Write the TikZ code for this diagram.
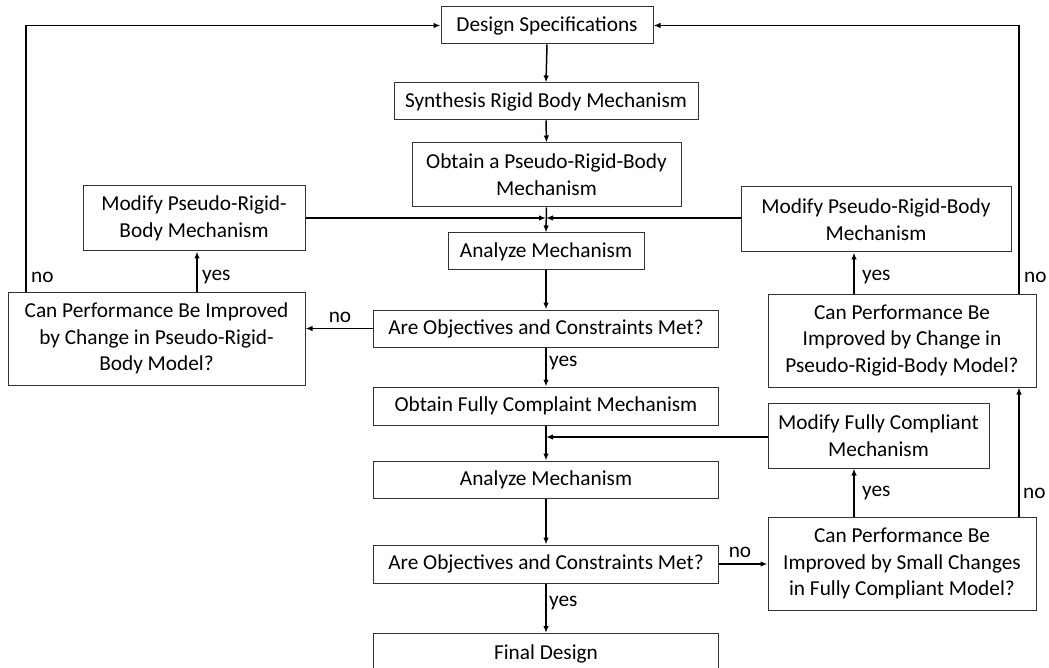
\documentclass[tikz,border=0pt]{standalone}
\usepackage{fontspec}
\setmainfont{Carlito}
\usetikzlibrary{arrows.meta}
\begin{document}
\begin{tikzpicture}[x=1pt,y=-1pt,
  box/.style={draw=black!80,line width=1pt,align=center,inner sep=0pt,
    font=\fontsize{21.3}{26.7}\selectfont},
  conn/.style={line width=1.5pt},
  arr/.style={conn,-{Latex[length=7pt,width=5.5pt]}},
  lbl/.style={inner sep=0pt,anchor=west,font=\fontsize{21.3}{26.7}\selectfont}]
\useasboundingbox (0,0) rectangle (1049,668);
% boxes
\node[box,minimum width=212,minimum height=37] (DS) at (547,25.5) {Design Specifications};
\node[box,minimum width=304,minimum height=37] (SR) at (546,101.5) {Synthesis Rigid Body Mechanism};
\node[box,minimum width=269,minimum height=64] (OP) at (546.5,175) {Obtain a Pseudo-Rigid-Body\\Mechanism};
\node[box,minimum width=222,minimum height=65] (ML) at (194,218.5) {Modify Pseudo-Rigid-\\Body Mechanism};
\node[box,minimum width=270,minimum height=65] (MR) at (876,219.5) {Modify Pseudo-Rigid-Body\\Mechanism};
\node[box,minimum width=196,minimum height=37] (AM1) at (546,251.5) {Analyze Mechanism};
\node[box,minimum width=297,minimum height=93] (CL) at (156.5,338.5) {Can Performance Be Improved\\by Change in Pseudo-Rigid-\\Body Model?};
\node[box,minimum width=345,minimum height=37] (AO1) at (546,328.5) {Are Objectives and Constraints Met?};
\node[box,minimum width=268,minimum height=93] (CR) at (902,340.5) {Can Performance Be\\Improved by Change in\\Pseudo-Rigid-Body Model?};
\node[box,minimum width=345,minimum height=38] (OF) at (546,406) {Obtain Fully Complaint Mechanism};
\node[box,minimum width=221,minimum height=65] (MF) at (878.5,435.5) {Modify Fully Compliant\\Mechanism};
\node[box,minimum width=345,minimum height=37] (AM2) at (546,479.5) {Analyze Mechanism};
\node[box,minimum width=345,minimum height=38] (AO2) at (546,564) {Are Objectives and Constraints Met?};
\node[box,minimum width=268,minimum height=93] (CF) at (902,563.5) {Can Performance Be\\Improved by Small Changes\\in Fully Compliant Model?};
\node[box,minimum width=345,minimum height=40,anchor=north] (FD) at (546,633) {Final Design};
% helper coordinates
\coordinate (j1) at (546,218);
\coordinate (j2) at (546,437);
\coordinate (xl) at (26,0);
\coordinate (xr) at (1019,0);
\coordinate (xy1) at (197,0);
\coordinate (xy2) at (854,0);
% main flow
\draw[arr] (DS.south) -- (SR.north);
\draw[arr] (SR.south) -- (OP.north);
\draw[arr] (OP.south) -- (AM1.north);
\draw[arr] (ML.east |- j1) -- (j1);
\draw[arr] (MR.west |- j1) -- (j1);
\draw[arr] (AM1.south) -- (AO1.north);
\draw[arr] (AO1.west) -- (AO1.west -| CL.east);
\draw[arr] (CL.north -| xy1) -- (ML.south -| xy1);
\draw[arr] (CL.north -| xl) |- (DS.west);
\draw[arr] (AO1.south) -- (OF.north);
\draw[arr] (CR.north -| xy2) -- (MR.south -| xy2);
\draw[arr] (CR.north -| xr) |- (DS.east);
\draw[arr] (OF.south) -- (AM2.north);
\draw[arr] (MF.west |- j2) -- (j2);
\draw[arr] (AM2.south) -- (AO2.north);
\draw[arr] (AO2.east) -- (AO2.east -| CF.west);
\draw[arr] (CF.north -| xy2) -- (MF.south -| xy2);
\draw[arr] (CF.north -| xr) -- (CR.south -| xr);
\draw[arr] (AO2.south) -- (FD.north);
% labels
\node[lbl] (n1) at (31,277) {no};
\node[lbl] (y1) at (202,277) {yes};
\node[lbl,anchor=center] (n2) at (340,317) {no};
\node[lbl] (y2) at (549,363) {yes};
\node[lbl] (y3) at (862,277) {yes};
\node[lbl] (n3) at (1024,277) {no};
\node[lbl] (y4) at (862,493) {yes};
\node[lbl] (n4) at (1023,493) {no};
\node[lbl,anchor=center] (n5) at (740,552) {no};
\node[lbl] (y5) at (549,603) {yes};
\end{tikzpicture}
\end{document}
